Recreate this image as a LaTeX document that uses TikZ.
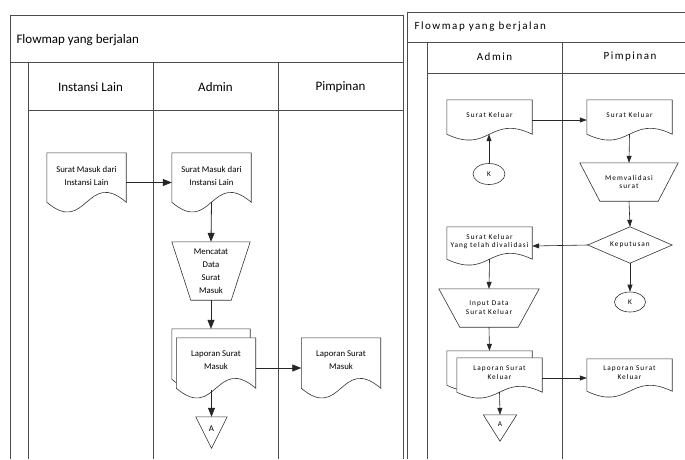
\documentclass[tikz,border=0pt]{standalone}
\usepackage{fontspec}
\setmainfont{Carlito}
\newfontfamily\rfont[LetterSpace=14]{Carlito}
\usetikzlibrary{arrows.meta,calc,shapes.geometric}
\pgfdeclarelayer{lanes}
\pgfdeclarelayer{bg}
\pgfsetlayers{lanes,bg,main}
\newcommand\docoutline[2]{%
  \draw[shp] (#1.north west) -- (#1.north east) -- ($(#1.south east)+(0,-#2)$)
    .. controls ($(#1.south)+(0,{-#2-3.4*#2})$) and ($(#1.south)+(0,{-#2+3.4*#2})$)
    .. ($(#1.south west)+(0,-#2)$) -- cycle;}
\newcommand\trapoutline[2]{%
  \draw[shp] (#1.north west) -- (#1.north east) -- ($(#1.south east)+(-#2,0)$)
    -- ($(#1.south west)+(#2,0)$) -- cycle;}
\newcommand\trioutline[1]{%
  \draw[shp] (#1.north west) -- (#1.north east) -- (#1.south) -- cycle;}
\begin{document}
\begin{tikzpicture}[x=1pt,y=-1pt,
  lane/.style={draw=black!70,line width=0.9pt},
  shp/.style={draw=black!80,line width=0.6pt,fill=white},
  box/.style={draw=none,inner sep=0pt,align=center},
  ltxt/.style={font=\fontsize{8.8}{13}\selectfont},
  rtxt/.style={font=\rfont\fontsize{7.3}{8.8}\selectfont},
  ldoc/.style={box,ltxt,minimum width=79pt,minimum height=59pt,text depth=13pt},
  rdoc/.style={box,rtxt,minimum width=85pt,minimum height=40pt,text depth=10pt},
  arrL/.style={-{Triangle[length=9pt,width=7pt]},line width=0.8pt,draw=black!85},
  arrR/.style={-{Triangle[length=7pt,width=5pt]},line width=0.6pt,draw=black!85},
  kcirc/.style={ellipse,draw=black!80,line width=0.6pt,fill=white,inner sep=0pt,rtxt}
]
\useasboundingbox (0,0) rectangle (685,459);

% ---------- swimlanes ----------
\begin{pgfonlayer}{lanes}
  \fill[white] (0,0) rectangle (685,459);
  % left panel
  \draw[lane] (10,459) -- (10,15) -- (403,15) -- (403,459);
  \draw[lane] (10,62) -- (403,62);
  \draw[lane] (28,62) -- (28,459);
  \draw[lane] (28,110) -- (403,110);
  \draw[lane] (153,62) -- (153,459);
  \draw[lane] (278,62) -- (278,459);
  % right panel
  \draw[lane] (407,459) -- (407,12) -- (685,12);
  \draw[lane] (407,42) -- (685,42);
  \draw[lane] (427,42) -- (427,459);
  \draw[lane] (427,73) -- (685,73);
  \draw[lane] (562,42) -- (562,459);
\end{pgfonlayer}

% ---------- titles and headers ----------
\node[anchor=west,font=\fontsize{13}{15}\selectfont] (T1) at (13,40) {Flowmap yang berjalan};
\node[font=\fontsize{13}{15}\selectfont] (H1) at (90.5,87) {Instansi Lain};
\node[font=\fontsize{13}{15}\selectfont] (H2) at (215.5,87) {Admin};
\node[font=\fontsize{13}{15}\selectfont] (H3) at (340.5,87) {Pimpinan};

\node[anchor=west,font=\rfont\fontsize{11}{13}\selectfont] (T2) at (411,27) {Flowmap yang berjalan};
\node[font=\rfont\fontsize{11}{13}\selectfont] (H4) at (494.5,57) {Admin};
\node[font=\rfont\fontsize{11}{13}\selectfont] (H5) at (630,57) {Pimpinan};

% ---------- left diagram nodes ----------
\node[ldoc] (L1) at (86.5,182.5) {Surat Masuk dari\\Instansi Lain};
\node[ldoc] (L2) at (211.5,182.5) {Surat Masuk dari\\Instansi Lain};
\node[box,ltxt,minimum width=78pt,minimum height=58pt] (L3) at (211,271) {Mencatat\\Data\\Surat\\Masuk};
\node[box,minimum width=78pt,minimum height=60pt] (L4b) at (211,359) {};
\node[ldoc,minimum height=60pt,text depth=15pt] (L4) at (216,368) {Laporan Surat\\Masuk};
\node[ldoc,minimum height=60pt,text depth=15pt] (L5) at (341,368) {Laporan Surat\\Masuk};
\node[box,ltxt,minimum width=31pt,minimum height=31pt,text depth=8pt] (A1) at (211.5,432.5) {A};

% ---------- right diagram nodes ----------
\node[rdoc] (R1) at (489.5,120) {Surat Keluar};
\node[kcirc,minimum width=32pt,minimum height=21pt] (K1) at (489,174) {K};
\node[rdoc] (R2) at (629.5,120) {Surat Keluar};
\node[box,rtxt,minimum width=98pt,minimum height=38pt] (R3) at (629,182) {Memvalidasi\\surat};
\node[box,rtxt,minimum width=84pt,minimum height=36pt] (R4) at (630,245) {Keputusan};
\node[rdoc,minimum height=38pt] (R5) at (489.5,246) {Surat Keluar\\Yang telah divalidasi};
\node[kcirc,minimum width=31pt,minimum height=20pt] (K2) at (630,302) {K};
\node[box,rtxt,minimum width=100pt,minimum height=38pt] (R6) at (489,308) {Input Data\\Surat Keluar};
\node[box,minimum width=85pt,minimum height=40pt] (R7b) at (489.5,371) {};
\node[rdoc] (R7) at (499.5,378) {Laporan Surat\\Keluar};
\node[rdoc,minimum height=38pt] (R8) at (629.5,378) {Laporan Surat\\Keluar};
\node[box,rtxt,minimum width=33pt,minimum height=26pt,text depth=7pt] (A2) at (500,428) {A};

% ---------- outlines ----------
\begin{pgfonlayer}{bg}
  \docoutline{L1}{10}
  \docoutline{L2}{10}
  \trapoutline{L3}{19}
  \docoutline{L4b}{10}
  \docoutline{L4}{10}
  \docoutline{L5}{10}
  \trioutline{A1}
  \docoutline{R1}{6}
  \docoutline{R2}{6}
  \trapoutline{R3}{20}
  \draw[shp] (R4.north) -- (R4.east) -- (R4.south) -- (R4.west) -- cycle;
  \docoutline{R5}{6}
  \trapoutline{R6}{21}
  \docoutline{R7b}{6}
  \docoutline{R7}{6}
  \docoutline{R8}{6}
  \trioutline{A2}
\end{pgfonlayer}

% ---------- connectors ----------
\coordinate (L2w) at ($(L2.south)+(0,-10)$);
\coordinate (L4w) at ($(L4.south)+(0,-8)$);
\draw[arrL] (L1.east) -- (L2.west);
\draw[arrL] (L2w) -- (L3.north);
\draw[arrL] (L3.south) -- (L4b.north);
\draw[arrL] (L4.east) -- (L5.west);
\draw[arrL] (A1.north |- L4w) -- (A1.north);

\coordinate (R1w) at ($(R1.south)+(0,-6)$);
\coordinate (R2w) at ($(R2.south)+(0,-6)$);
\coordinate (R5w) at ($(R5.south)+(0,-6)$);
\coordinate (R7w) at ($(R7.south)+(0,-6)$);
\draw[arrR] (K1.north) -- (K1.north |- R1w);
\draw[arrR] (R1.east) -- (R2.west);
\draw[arrR] (R2w) -- (R3.north);
\draw[arrR] (R3.south) -- (R4.north);
\draw[arrR] (R4.west) -- (R5.east);
\draw[arrR] (R4.south) -- (K2.north);
\draw[arrR] (R5w) -- (R6.north);
\draw[arrR] (R6.south) -- (R7b.north);
\draw[arrR] (R7.east) -- (R8.west);
\draw[arrR] (R7w) -- (A2.north);
\end{tikzpicture}
\end{document}
